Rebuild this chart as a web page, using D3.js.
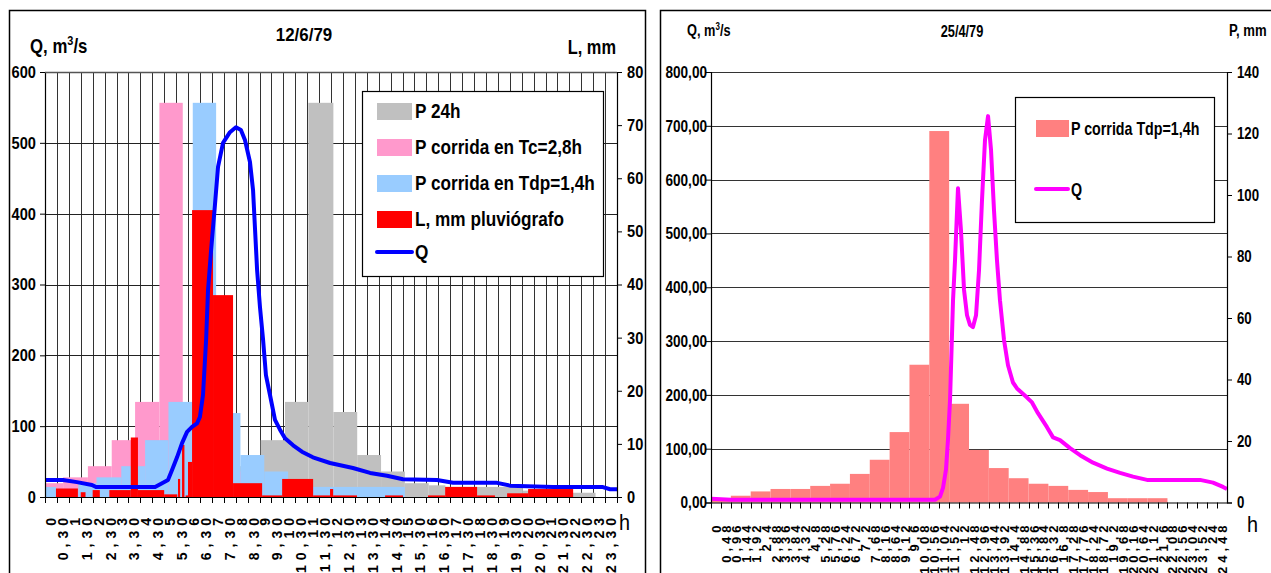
<!DOCTYPE html>
<html>
<head>
<meta charset="utf-8">
<script src="https://cdn.jsdelivr.net/npm/d3@7"></script>
<style>
  body { margin: 0; background: #fff; }
  text { font-family: "Liberation Sans", Arial, sans-serif; font-weight: bold; fill: #000; }
</style>
</head>
<body>
<svg id="chart" width="1271" height="573"></svg>
<script>
// ---------- left chart data (12/6/79) ----------
var leftLabels = ["0","0,30","1","1,30","2","2,30","3","3,30","4","4,30","5","5,30","6","6,30","7","7,30",
  "8","8,30","9","9,30","10","10,30","11","11,30","12","12,30","13","13,30","14","14,30","15","15,30",
  "16","16,30","17","17,30","18","18,30","19","19,30","20","20,30","21","21,30","22","22,30","23","23,30"];
var leftQTicks = [0, 100, 200, 300, 400, 500, 600];
var leftLTicks = [0, 10, 20, 30, 40, 50, 60, 70, 80];

// P 24h (gray) blocks, hours / mm
var p24From = [7.0, 8.0, 9.05, 10.07, 11.05, 12.1, 13.1, 14.1, 15.1, 16.1, 16.8, 20.05, 22.1];
var p24To   = [8.0, 9.05, 10.07, 11.05, 12.1, 13.1, 14.1, 15.1, 16.1, 16.8, 20.05, 22.1, 23.1];
var p24Val  = [3.7, 5.8, 10.7, 17.9, 74.2, 16.0, 7.9, 4.8, 2.6, 2.2, 1.9, 1.2, 0.8];

// P corrida en Tc=2,8h (pink)
var pTcFrom = [0, 0.76, 1.8, 2.8, 3.78, 4.8, 5.78, 6.8, 7.8];
var pTcTo   = [0.76, 1.8, 2.8, 3.78, 4.8, 5.78, 6.8, 7.8, 8.8];
var pTcVal  = [2.6, 3.7, 5.8, 10.7, 17.9, 74.2, 16.0, 7.9, 4.8];

// P corrida en Tdp=1,4h (light blue)
var pTdpFrom = [0, 0.46, 1.4, 2.16, 3.2, 4.2, 5.18, 6.2, 7.18, 8.2, 9.2, 10.2, 11.2];
var pTdpTo   = [0.46, 1.4, 2.16, 3.2, 4.2, 5.18, 6.2, 7.18, 8.2, 9.2, 10.2, 11.2, 15.1];
var pTdpVal  = [1.9, 1.2, 2.6, 3.7, 5.8, 10.7, 17.9, 74.2, 15.8, 7.9, 4.8, 2.6, 1.9];

// L, mm pluviografo (red)
var lFrom = [0.46, 1.5, 2.0, 2.7, 3.6, 3.9, 5.0, 5.58, 5.75, 5.9, 6.0, 6.17, 7.05, 7.89, 9.11, 9.95, 11.25, 11.96, 12.09, 14.27, 16.07, 16.79, 18.13, 19.39, 20.27];
var lTo   = [1.38, 1.7, 2.3, 3.6, 3.9, 5.0, 5.55, 5.67, 5.85, 6.0, 6.17, 7.05, 7.89, 9.11, 9.95, 11.25, 11.96, 12.09, 13.09, 15.02, 16.79, 18.13, 18.88, 20.27, 22.16];
var lVal  = [1.6, 0.9, 1.3, 1.3, 11.2, 1.3, 0.5, 3.4, 9.8, 0.3, 6.6, 54.0, 38.0, 2.6, 0.3, 3.4, 0.3, 1.5, 0.3, 0.3, 0.3, 1.9, 0.3, 0.7, 1.5];

// Q hydrograph, hours / m3/s
var qHours = [0, 0.76, 1.34, 1.97, 2.14, 4.62, 4.95, 5.16, 5.33, 5.54, 5.75, 5.96, 6.17, 6.38, 6.5, 6.63, 6.76, 6.84, 6.97, 7.13, 7.26, 7.47, 7.76, 8.01, 8.22, 8.39, 8.6, 8.73, 8.9, 9.02, 9.15, 9.27, 9.44, 9.65, 9.86, 10.07, 10.41, 10.78, 11.24, 11.96, 12.92, 13.64, 14.35, 15.02, 16.45, 17.12, 18.97, 19.51, 21.32, 23.41, 23.71, 24.0];
var qValues = [24, 24, 21, 17, 14, 14, 20, 24, 38, 56, 76, 92, 99, 104, 113, 144, 222, 292, 349, 412, 466, 500, 515, 522, 518, 504, 473, 433, 320, 268, 222, 172, 144, 109, 95, 83, 73, 64, 56, 48, 41, 34, 30, 25, 24, 20, 20, 16, 14, 14, 11, 11];

// ---------- right chart data (25/4/79) ----------
var rightLabels = ["0","0,48","0,96","1,44","1,92","2,4","2,88","3,36","3,84","4,32","4,8","5,28","5,76","6,24","6,72","7,2",
  "7,68","8,16","8,64","9,12","9,6","10,08","10,56","11,04","11,52","12","12,48","12,96","13,44","13,92","14,4","14,88",
  "15,36","15,84","16,32","16,8","17,28","17,76","18,24","18,72","19,2","19,68","20,16","20,64","21,12","21,6","22,08",
  "22,56","23,04","23,52","24","24,48"];
var rightQTicks = [0, 100, 200, 300, 400, 500, 600, 700, 800];
var rightPTicks = [0, 20, 40, 60, 80, 100, 120, 140];
var pRightVal = [1.4, 2.2, 3.6, 4.4, 4.4, 5.4, 6.1, 9.3, 13.9, 22.9, 44.8, 120.8, 32.1, 17.1, 11.2, 7.9, 6.1, 5.4, 4.1, 3.4, 1.4, 1.4, 1.4];
var qrSlot = [0, 2.02, 22.57, 23.08, 23.38, 23.68, 23.88, 24.09, 24.39, 24.59, 24.89, 25.19, 25.5, 25.8, 26.1, 26.4, 26.71, 27.01, 27.31, 27.61, 27.92, 28.22, 28.52, 28.82, 29.12, 29.53, 29.93, 30.43, 30.84, 31.85, 32.35, 32.95, 33.86, 34.47, 35.17, 36.18, 37.19, 38.5, 39.91, 41.22, 42.53, 43.94, 45.95, 49.28, 50.59, 51.6, 52];
var qrValue = [7, 5, 5, 11, 27, 61, 116, 191, 376, 450, 584, 506, 395, 348, 330, 326, 348, 432, 562, 673, 718, 655, 543, 450, 376, 302, 255, 223, 212, 195, 186, 166, 140, 121, 116, 101, 88, 74, 63, 55, 48, 42, 42, 42, 37, 29, 25];

var svg = d3.select('#chart');

// narrow bold text: regular face squeezed horizontally
function label(g, x, y, s, size, anchor, sx) {
  return g.append('text')
    .attr('transform', `translate(${x},${y}) scale(${sx},1)`)
    .attr('text-anchor', anchor || 'start')
    .style('font-size', size + 'px')
    .text(s);
}
function squeezeTicks(g, dx, sx) {
  g.selectAll('.tick text').attr('x', 0)
    .attr('transform', `translate(${dx},0) scale(${sx},1)`);
}

// panel frames
svg.append('rect').attr('x', 9.5).attr('y', 10.5).attr('width', 636).attr('height', 600)
  .attr('fill', 'none').attr('stroke', '#000').attr('stroke-width', 1.5);
svg.append('rect').attr('x', 660.5).attr('y', 10.5).attr('width', 620).attr('height', 600)
  .attr('fill', 'none').attr('stroke', '#000').attr('stroke-width', 1.5);

function blocks(from, to, val) {
  return from.map(function(f, i) { return { from: f, to: to[i], v: val[i] }; });
}

// ================= LEFT CHART =================
var L = { left: 45, right: 617, top: 72, bottom: 497 };
var xCat = d3.scaleBand().domain(leftLabels).range([L.left, L.right]).padding(0);
var xHour = d3.scaleLinear().domain([0, 24]).range([L.left, L.right]);
var yQ = d3.scaleLinear().domain([0, 600]).range([L.bottom, L.top]);
var yL = d3.scaleLinear().domain([0, 80]).range([L.bottom, L.top]);

var left = svg.append('g');

// vertical gridlines at category boundaries
left.selectAll('.vgrid').data(leftLabels.slice(1)).enter().append('line')
  .attr('x1', d => Math.round(xCat(d)) + 0.5).attr('x2', d => Math.round(xCat(d)) + 0.5)
  .attr('y1', L.top).attr('y2', L.bottom)
  .attr('stroke', '#333').attr('stroke-width', 1);
// horizontal gridlines
left.selectAll('.hgrid').data(leftQTicks.slice(1)).enter().append('line')
  .attr('x1', L.left).attr('x2', L.right)
  .attr('y1', d => Math.round(yQ(d)) + 0.5).attr('y2', d => Math.round(yQ(d)) + 0.5)
  .attr('stroke', '#222').attr('stroke-width', 1);

function drawBlocks(g, data, color) {
  g.selectAll(null).data(data).enter().append('rect')
    .attr('x', d => xHour(d.from))
    .attr('width', d => xHour(d.to) - xHour(d.from))
    .attr('y', d => yL(d.v))
    .attr('height', d => L.bottom - yL(d.v))
    .attr('fill', color);
}
drawBlocks(left, blocks(p24From, p24To, p24Val), '#C0C0C0');
drawBlocks(left, blocks(pTcFrom, pTcTo, pTcVal), '#FF99CC');
drawBlocks(left, blocks(pTdpFrom, pTdpTo, pTdpVal), '#99CCFF');
drawBlocks(left, blocks(lFrom, lTo, lVal), '#FF0000');

// Q line
var qLine = d3.line().x(d => xHour(d[0])).y(d => yQ(d[1]));
left.append('path')
  .datum(qHours.map((h, i) => [h, qValues[i]]))
  .attr('d', qLine)
  .attr('fill', 'none').attr('stroke', '#0000FF').attr('stroke-width', 4)
  .attr('stroke-linejoin', 'round');

// axes
var gLQ = left.append('g').attr('transform', `translate(${L.left},0)`)
  .call(d3.axisLeft(yQ).tickValues(leftQTicks).tickSize(5).tickFormat(d3.format('d')));
var gLL = left.append('g').attr('transform', `translate(${L.right},0)`)
  .call(d3.axisRight(yL).tickValues(leftLTicks).tickSize(5).tickFormat(d3.format('d')));
var gLB = left.append('g').attr('transform', `translate(0,${L.bottom})`)
  .call(d3.axisBottom(xCat).tickSize(0).tickFormat(''));
[gLQ, gLL, gLB].forEach(function(g) {
  g.select('.domain').attr('stroke', '#000').attr('stroke-width', 1.2);
  g.selectAll('line').attr('stroke', '#000');
  g.selectAll('text').style('font-size', '17px').attr('fill', '#000');
});
squeezeTicks(gLQ, -9, 0.86);
squeezeTicks(gLL, 10, 0.86);
// plot top border
left.append('line').attr('x1', L.left).attr('x2', L.right).attr('y1', L.top + 0.5).attr('y2', L.top + 0.5)
  .attr('stroke', '#555').attr('stroke-width', 1.5);

// bottom ticks at category boundaries
left.selectAll('.btick').data(leftLabels).enter().append('line')
  .attr('x1', d => Math.round(xCat(d)) + 0.5).attr('x2', d => Math.round(xCat(d)) + 0.5)
  .attr('y1', L.bottom).attr('y2', L.bottom + 6).attr('stroke', '#000');
left.append('line').attr('x1', L.right + 0.5).attr('x2', L.right + 0.5)
  .attr('y1', L.bottom).attr('y2', L.bottom + 6).attr('stroke', '#000');

// rotated category labels
left.selectAll('.xlab').data(leftLabels).enter().append('text')
  .attr('transform', d => `translate(${xCat(d) + xCat.bandwidth() / 2 + 5},${L.bottom + 16}) rotate(-90)`)
  .attr('text-anchor', 'end')
  .style('font-size', '14px')
  .style('letter-spacing', '5px')
  .text(d => d);

// titles
label(left, 304, 41, '12/6/79', 19, 'middle', 0.89);
var qt = label(left, 30, 53, '', 20, 'start', 0.84);
qt.append('tspan').text('Q, m');
qt.append('tspan').attr('dy', -8).style('font-size', '13px').text('3');
qt.append('tspan').attr('dy', 8).text('/s');
label(left, 616, 54, 'L, mm', 20, 'end', 0.82);
label(left, 619, 530, 'h', 22, 'start', 0.9).style('font-weight', 'normal');

// legend
var legL = left.append('g');
legL.append('rect').attr('x', 362.5).attr('y', 91.5).attr('width', 241).attr('height', 185)
  .attr('fill', '#fff').attr('stroke', '#000').attr('stroke-width', 1.2);
var legItems = [
  { name: 'P 24h', color: '#C0C0C0' },
  { name: 'P corrida en Tc=2,8h', color: '#FF99CC' },
  { name: 'P corrida en Tdp=1,4h', color: '#99CCFF' },
  { name: 'L, mm pluvi\u00f3grafo', color: '#FF0000' }
];
legItems.forEach(function(it, i) {
  var cy = 111 + i * 36;
  legL.append('rect').attr('x', 377).attr('y', cy - 8).attr('width', 35).attr('height', 17).attr('fill', it.color);
  label(legL, 415, cy + 7, it.name, 20, 'start', 0.86);
});
legL.append('line').attr('x1', 377).attr('x2', 412).attr('y1', 252).attr('y2', 252)
  .attr('stroke', '#0000FF').attr('stroke-width', 4).attr('stroke-linecap', 'round');
label(legL, 415, 259, 'Q', 20, 'start', 0.86);

// ================= RIGHT CHART =================
var R = { left: 711, right: 1227, top: 72, bottom: 502.5 };
var xCatR = d3.scaleBand().domain(rightLabels).range([R.left, R.right]).padding(0);
var xSlot = d3.scaleLinear().domain([0, rightLabels.length]).range([R.left, R.right]);
var xBar = d3.scaleBand().domain(d3.range(rightLabels.length / 2)).range([R.left, R.right]).padding(0);
var yQR = d3.scaleLinear().domain([0, 800]).range([R.bottom, R.top]);
var yPR = d3.scaleLinear().domain([0, 140]).range([R.bottom, R.top]);

var right = svg.append('g');

right.selectAll('.hgrid').data(rightQTicks.slice(1)).enter().append('line')
  .attr('x1', R.left).attr('x2', R.right)
  .attr('y1', d => Math.round(yQR(d)) + 0.5).attr('y2', d => Math.round(yQR(d)) + 0.5)
  .attr('stroke', '#333').attr('stroke-width', 1.2);

right.selectAll('.bar').data(pRightVal).enter().append('rect')
  .attr('x', (d, i) => xBar(i))
  .attr('width', xBar.bandwidth())
  .attr('y', d => yPR(d))
  .attr('height', d => R.bottom - yPR(d))
  .attr('fill', '#FF8080');

var qrLine = d3.line().x(d => xSlot(d[0])).y(d => yQR(d[1]));
right.append('path')
  .datum(qrSlot.map((s, i) => [s, qrValue[i]]))
  .attr('d', qrLine)
  .attr('fill', 'none').attr('stroke', '#FF00FF').attr('stroke-width', 4)
  .attr('stroke-linejoin', 'round');

var fmtR = d => d3.format('.2f')(d).replace('.', ',');
var gRQ = right.append('g').attr('transform', `translate(${R.left},0)`)
  .call(d3.axisLeft(yQR).tickValues(rightQTicks).tickSize(5).tickFormat(fmtR));
var gRP = right.append('g').attr('transform', `translate(${R.right},0)`)
  .call(d3.axisRight(yPR).tickValues(rightPTicks).tickSize(5).tickFormat(d3.format('d')));
var gRB = right.append('g').attr('transform', `translate(0,${R.bottom})`)
  .call(d3.axisBottom(xCatR).tickSize(0).tickFormat(''));
[gRQ, gRP, gRB].forEach(function(g) {
  g.select('.domain').attr('stroke', '#000').attr('stroke-width', 1.2);
  g.selectAll('line').attr('stroke', '#000');
  g.selectAll('text').style('font-size', '17px').attr('fill', '#000');
});
squeezeTicks(gRQ, -4, 0.8);
squeezeTicks(gRP, 10, 0.78);

right.selectAll('.btick').data(rightLabels).enter().append('line')
  .attr('x1', d => Math.round(xCatR(d)) + 0.5).attr('x2', d => Math.round(xCatR(d)) + 0.5)
  .attr('y1', R.bottom).attr('y2', R.bottom + 6).attr('stroke', '#000');

right.selectAll('.xlab').data(rightLabels).enter().append('text')
  .attr('transform', d => `translate(${xCatR(d) + xCatR.bandwidth() / 2 + 5},${R.bottom + 19}) rotate(-90)`)
  .attr('text-anchor', 'end')
  .style('font-size', '13px')
  .style('letter-spacing', '4px')
  .text(d => d);

label(right, 962, 37, '25/4/79', 16, 'middle', 0.8);
var qtr = label(right, 687, 36, '', 16, 'start', 0.8);
qtr.append('tspan').text('Q, m');
qtr.append('tspan').attr('dy', -6).style('font-size', '10px').text('3');
qtr.append('tspan').attr('dy', 6).text('/s');
label(right, 1229, 36, 'P, mm', 16, 'start', 0.82);
label(right, 1247, 532, 'h', 22, 'start', 0.9).style('font-weight', 'normal');

var legR = right.append('g');
legR.append('rect').attr('x', 1015.5).attr('y', 97.5).attr('width', 199).attr('height', 125)
  .attr('fill', '#fff').attr('stroke', '#000').attr('stroke-width', 1.2);
legR.append('rect').attr('x', 1036).attr('y', 120).attr('width', 33).attr('height', 17).attr('fill', '#FF8080');
label(legR, 1071, 135, 'P corrida Tdp=1,4h', 19, 'start', 0.75);
legR.append('line').attr('x1', 1036).attr('x2', 1068).attr('y1', 189).attr('y2', 189)
  .attr('stroke', '#FF00FF').attr('stroke-width', 4).attr('stroke-linecap', 'round');
label(legR, 1071, 196, 'Q', 19, 'start', 0.75);
</script>
</body>
</html>
